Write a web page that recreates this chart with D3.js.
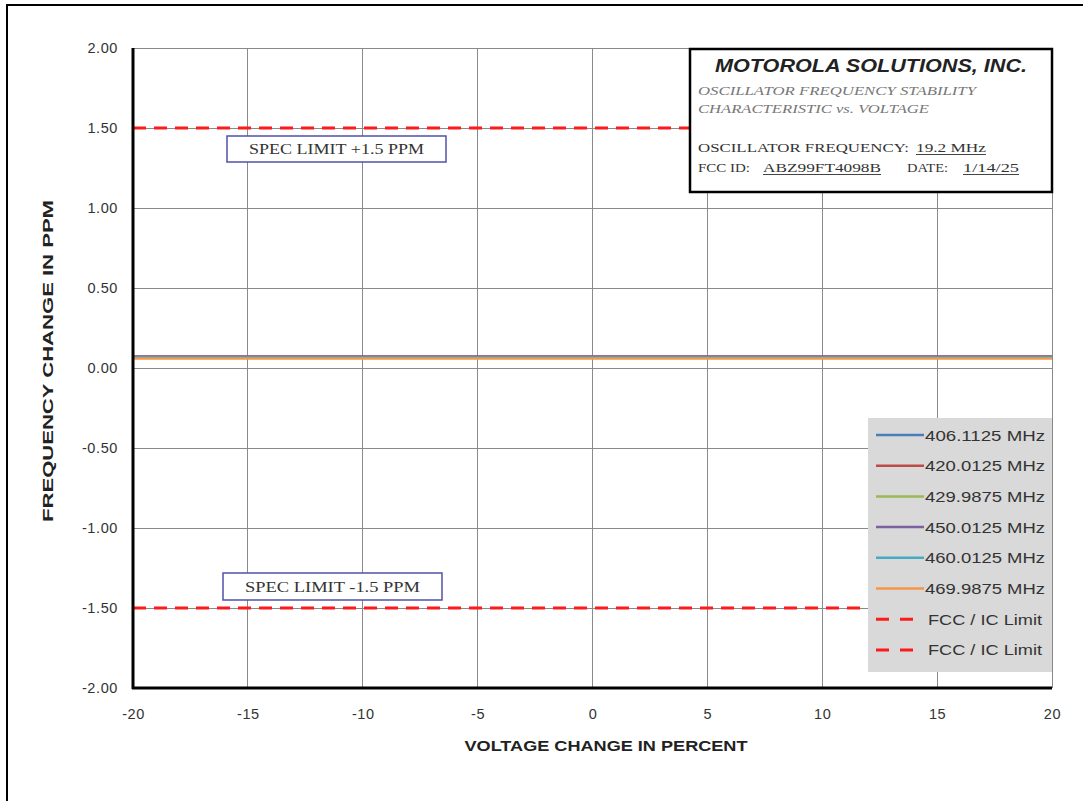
<!DOCTYPE html>
<html><head><meta charset="utf-8">
<script src="https://cdn.jsdelivr.net/npm/d3@7"></script>
<style>body{margin:0;background:#fff;}svg{display:block;}</style>
</head><body>
<svg id="chart" width="1083" height="801"></svg>
<script>
// ---- data ----
const xPoints = [-20, -15, -10, -5, 0, 5, 10, 15, 20];
const seriesNames = ["406.1125 MHz","420.0125 MHz","429.9875 MHz","450.0125 MHz","460.0125 MHz","469.9875 MHz"];
const seriesColors = ["#4a7ebb","#be4b48","#98b954","#7d60a0","#46aac5","#f79646"];
const s406 = [0.07,0.07,0.07,0.07,0.07,0.07,0.07,0.07,0.07];
const s420 = [0.07,0.07,0.07,0.07,0.07,0.07,0.07,0.07,0.07];
const s430 = [0.065,0.065,0.065,0.065,0.065,0.065,0.065,0.065,0.065];
const s450 = [0.07,0.07,0.07,0.07,0.07,0.07,0.07,0.07,0.07];
const s460 = [0.065,0.065,0.065,0.065,0.065,0.065,0.065,0.065,0.065];
const s470 = [0.06,0.06,0.06,0.06,0.06,0.06,0.06,0.06,0.06];
const seriesValues = [s406,s420,s430,s450,s460,s470];
const upperLimit = 1.5, lowerLimit = -1.5;
const limitX = [-20, 20];
const xTicks = [-20,-15,-10,-5,0,5,10,15,20];
const xTickLabels = ["-20","-15","-10","-5","0","5","10","15","20"];
const yTicks = [2,1.5,1,0.5,0,-0.5,-1,-1.5,-2];
const yTickLabels = ["2.00","1.50","1.00","0.50","0.00","-0.50","-1.00","-1.50","-2.00"];
const legendNames = seriesNames.concat(["FCC / IC Limit","FCC / IC Limit"]);

// ---- layout ----
const svg = d3.select("#chart");
const L = 133, R = 1052, T = 48, B = 688;
const x = d3.scaleLinear().domain([-20,20]).range([L,R]);
const y = d3.scaleLinear().domain([-2,2]).range([B,T]);
const sans = "'Liberation Sans', Arial, sans-serif";
const serif = "'Liberation Serif', 'Times New Roman', serif";

// outer border
svg.append("rect").attr("x",7).attr("y",5).attr("width",1090).attr("height",810)
  .attr("fill","#fff").attr("stroke","#000").attr("stroke-width",2);

// plot bg
svg.append("rect").attr("x",L).attr("y",T).attr("width",R-L).attr("height",B-T).attr("fill","#fff");

// gridlines
svg.append("g").selectAll("line").data(yTicks).join("line")
  .attr("x1",L).attr("x2",R).attr("y1",d=>y(d)).attr("y2",d=>y(d))
  .attr("stroke","#8a8a8a").attr("stroke-width",1).attr("shape-rendering","crispEdges");
svg.append("g").selectAll("line").data(xTicks).join("line")
  .attr("y1",T).attr("y2",B).attr("x1",d=>x(d)).attr("x2",d=>x(d))
  .attr("stroke","#8a8a8a").attr("stroke-width",1).attr("shape-rendering","crispEdges");

// axes using d3 axis for labels
const yAxis = d3.axisLeft(y).tickValues(yTicks).tickSize(0).tickPadding(15)
  .tickFormat((d,i)=>yTickLabels[i]);
const gy = svg.append("g").attr("transform",`translate(${L},0)`).call(yAxis);
gy.select(".domain").remove();
gy.selectAll("text").attr("font-family",sans).attr("font-size",14.5).attr("letter-spacing",0.6).attr("fill","#333");

const xAxis = d3.axisBottom(x).tickValues(xTicks).tickSize(0).tickPadding(21)
  .tickFormat((d,i)=>xTickLabels[i]);
const gx = svg.append("g").attr("transform",`translate(0,${B})`).call(xAxis);
gx.select(".domain").remove();
gx.selectAll("text").attr("font-family",sans).attr("font-size",14.5).attr("letter-spacing",0.6).attr("fill","#333");

// series lines
const line = d3.line().x((d,i)=>x(xPoints[i])).y(d=>y(d));
seriesValues.forEach((vals,k)=>{
  svg.append("path").datum(vals).attr("d",line).attr("fill","none")
    .attr("stroke",seriesColors[k]).attr("stroke-width",2.5);
});

// limit lines
const limLine = d3.line().x(d=>x(d[0])).y(d=>y(d[1]));
[upperLimit, lowerLimit].forEach(v=>{
  svg.append("path").datum(limitX.map(xx=>[xx,v])).attr("d",limLine)
    .attr("fill","none").attr("stroke","#ff1a1a").attr("stroke-width",3)
    .attr("stroke-dasharray","13,8");
});

// axes lines (thick black left & bottom; thin right/top)
svg.append("line").attr("x1",L).attr("x2",R).attr("y1",T).attr("y2",T).attr("stroke","#888").attr("stroke-width",1).attr("shape-rendering","crispEdges");
svg.append("line").attr("x1",R).attr("x2",R).attr("y1",T).attr("y2",B).attr("stroke","#888").attr("stroke-width",1).attr("shape-rendering","crispEdges");
svg.append("line").attr("x1",L).attr("x2",L).attr("y1",T).attr("y2",B+1).attr("stroke","#000").attr("stroke-width",3);
svg.append("line").attr("x1",L-1).attr("x2",R).attr("y1",B).attr("y2",B).attr("stroke","#000").attr("stroke-width",3);

// spec limit boxes
function specBox(x0,y0,w,h,label){
  svg.append("rect").attr("x",x0).attr("y",y0).attr("width",w).attr("height",h)
    .attr("fill","#fff").attr("stroke","#5050a8").attr("stroke-width",1.5);
  svg.append("text").attr("x",x0+w/2).attr("y",y0+h/2+5).attr("text-anchor","middle")
    .attr("font-family",serif).attr("font-size",15).attr("fill","#333")
    .attr("textLength",175).attr("lengthAdjust","spacingAndGlyphs").text(label);
}
specBox(227,136,219,26,"SPEC LIMIT +1.5 PPM");
specBox(223,573,219,27,"SPEC LIMIT -1.5 PPM");

// title box
svg.append("rect").attr("x",690).attr("y",49).attr("width",362).attr("height",143)
  .attr("fill","#fff").attr("stroke","#000").attr("stroke-width",2.5);
svg.append("text").attr("x",871).attr("y",72).attr("text-anchor","middle")
  .attr("font-family",sans).attr("font-weight","bold").attr("font-style","italic")
  .attr("font-size",18).attr("fill","#222").attr("textLength",312).attr("lengthAdjust","spacingAndGlyphs")
  .text("MOTOROLA SOLUTIONS, INC.");
svg.append("text").attr("x",698).attr("y",95).attr("font-family",serif).attr("font-style","italic")
  .attr("font-size",12).attr("fill","#777").attr("textLength",278).attr("lengthAdjust","spacingAndGlyphs")
  .text("OSCILLATOR FREQUENCY STABILITY");
svg.append("text").attr("x",698).attr("y",113).attr("font-family",serif).attr("font-style","italic")
  .attr("font-size",12).attr("fill","#777").attr("textLength",231).attr("lengthAdjust","spacingAndGlyphs")
  .text("CHARACTERISTIC vs. VOLTAGE");
function tbText(x0,yy,txt,len,underline){
  svg.append("text").attr("x",x0).attr("y",yy).attr("font-family",serif)
    .attr("font-size",13).attr("fill","#333").attr("textLength",len).attr("lengthAdjust","spacingAndGlyphs").text(txt);
  if(underline){
    svg.append("line").attr("x1",x0).attr("x2",x0+len).attr("y1",yy+2.5).attr("y2",yy+2.5)
      .attr("stroke","#444").attr("stroke-width",1);
  }
}
tbText(698,152,"OSCILLATOR FREQUENCY:",211,false);
tbText(916,152,"19.2 MHz",70,true);
tbText(698,172,"FCC ID:",52,false);
tbText(763,172,"ABZ99FT4098B",118,true);
tbText(907,172,"DATE:",41,false);
tbText(963,172,"1/14/25",56,true);

// legend
const lgX = 868, lgY = 418, lgW = 184, lgH = 254;
svg.append("rect").attr("x",lgX).attr("y",lgY).attr("width",lgW).attr("height",lgH).attr("fill","#d9d9d9");
const lg = svg.append("g");
legendNames.forEach((n,i)=>{
  const yy = 435 + i*30.7;
  const isLim = i>=6;
  lg.append("line").attr("x1",876).attr("x2",isLim?913:924).attr("y1",yy).attr("y2",yy)
    .attr("stroke",isLim?"#ff1a1a":seriesColors[i]).attr("stroke-width",isLim?3:2.5)
    .attr("stroke-dasharray",isLim?"13,11":null);
  lg.append("text").attr("x",isLim?928:925).attr("y",yy+5.5).attr("font-family",sans).attr("font-size",15)
    .attr("fill","#333").attr("textLength",isLim?114:120).attr("lengthAdjust","spacingAndGlyphs").text(n);
});

// axis titles
svg.append("text").attr("x",606).attr("y",751).attr("text-anchor","middle")
  .attr("font-family",sans).attr("font-weight","bold").attr("font-size",15).attr("fill","#222")
  .attr("textLength",283).attr("lengthAdjust","spacingAndGlyphs").text("VOLTAGE CHANGE IN PERCENT");
svg.append("text").attr("transform","translate(53,361) rotate(-90)").attr("text-anchor","middle")
  .attr("font-family",sans).attr("font-weight","bold").attr("font-size",14.5).attr("fill","#222")
  .attr("textLength",322).attr("lengthAdjust","spacingAndGlyphs").text("FREQUENCY CHANGE IN PPM");
</script>
</body></html>
